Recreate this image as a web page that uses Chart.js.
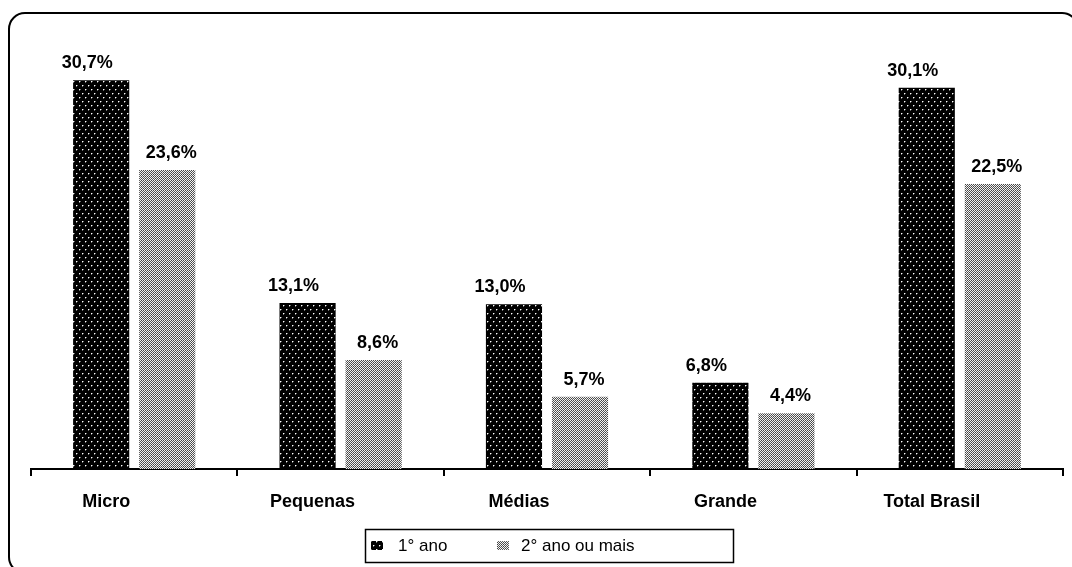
<!DOCTYPE html>
<html>
<head>
<meta charset="utf-8">
<script src="https://cdn.jsdelivr.net/npm/chart.js@4/dist/chart.umd.min.js"></script>
<style>
  html, body { margin: 0; padding: 0; background: #fff; }
  #wrap { position: relative; width: 1072px; height: 567px; }
  canvas { display: block; }
</style>
</head>
<body>
<div id="wrap"><canvas id="c" width="1072" height="567"></canvas></div>
<script>
// Categories and series values (percent)
const categories = ['Micro', 'Pequenas', 'Médias', 'Grande', 'Total Brasil'];
const seriesNames = ['1° ano', '2° ano ou mais'];
const firstYear = [30.7, 13.1, 13.0, 6.8, 30.1];
const laterYears = [23.6, 8.6, 5.7, 4.4, 22.5];

const FONT = '"Liberation Sans", Arial, Helvetica, sans-serif';

// Dotted black fill
function darkPattern() {
  const t = document.createElement('canvas');
  t.width = 6; t.height = 8;
  const g = t.getContext('2d');
  g.fillStyle = '#000'; g.fillRect(0, 0, 6, 8);
  g.fillStyle = '#6a6a6a';
  g.fillRect(1, 2, 1, 1); g.fillRect(2, 1, 1, 1);
  g.fillRect(4, 6, 1, 1); g.fillRect(5, 5, 1, 1);
  g.fillStyle = '#fff';
  g.fillRect(1, 1, 1, 1); g.fillRect(4, 5, 1, 1);
  return g.createPattern(t, 'repeat');
}
// Fine grey checker fill
function lightPattern() {
  const t = document.createElement('canvas');
  t.width = 4; t.height = 4;
  const g = t.getContext('2d');
  for (let y = 0; y < 4; y++) {
    for (let x = 0; x < 4; x++) {
      const on = (x + y) % 2 === 0;
      g.fillStyle = on ? '#f2f2f2' : '#5a5a5a';
      if (!on && x % 2 === 1 && y % 2 === 0) g.fillStyle = '#444';
      g.fillRect(x, y, 1, 1);
    }
  }
  return g.createPattern(t, 'repeat');
}

const fmt = v => v.toFixed(1).replace('.', ',') + '%';

// Value labels above each bar (first series set a little to the left)
const labelShift = [-14, 4];
const valueLabels = {
  id: 'valueLabels',
  afterDatasetsDraw(chart) {
    const ctx = chart.ctx;
    ctx.save();
    ctx.font = 'bold 18px ' + FONT;
    ctx.fillStyle = '#000';
    ctx.textAlign = 'center';
    ctx.textBaseline = 'alphabetic';
    chart.data.datasets.forEach((ds, i) => {
      chart.getDatasetMeta(i).data.forEach((bar, j) => {
        ctx.fillText(fmt(ds.data[j]), bar.x + labelShift[i], bar.y - 12);
      });
    });
    ctx.restore();
  }
};

// Boxed legend and rounded outer frame
const frameAndLegend = {
  id: 'frameAndLegend',
  afterDraw(chart) {
    const ctx = chart.ctx;
    ctx.save();
    // outer rounded frame
    ctx.strokeStyle = '#000';
    ctx.lineWidth = 2;
    const x0 = 9, y0 = 13, x1 = 1078, y1 = 573, r = 16;
    ctx.beginPath();
    ctx.moveTo(x0 + r, y0);
    ctx.lineTo(x1 - r, y0);
    ctx.arcTo(x1, y0, x1, y0 + r, r);
    ctx.lineTo(x1, y1 - r);
    ctx.arcTo(x1, y1, x1 - r, y1, r);
    ctx.lineTo(x0 + r, y1);
    ctx.arcTo(x0, y1, x0, y1 - r, r);
    ctx.lineTo(x0, y0 + r);
    ctx.arcTo(x0, y0, x0 + r, y0, r);
    ctx.stroke();

    // legend box
    ctx.lineWidth = 1.5;
    ctx.strokeRect(365.5, 529.5, 368, 33);
    ctx.font = '17px ' + FONT;
    ctx.textBaseline = 'middle';
    ctx.textAlign = 'left';
    const items = [{ sx: 371, tx: 398 }, { sx: 497, tx: 521 }];
    chart.data.datasets.forEach((ds, i) => {
      const it = items[i];
      ctx.fillStyle = ds.backgroundColor;
      ctx.fillRect(it.sx, 541, 12, 9);
      ctx.fillStyle = '#000';
      ctx.fillText(ds.label, it.tx, 546);
    });
    ctx.restore();
  }
};

new Chart(document.getElementById('c'), {
  type: 'bar',
  data: {
    labels: categories,
    datasets: [
      { label: seriesNames[0], data: firstYear, backgroundColor: darkPattern(), borderWidth: 0 },
      { label: seriesNames[1], data: laterYears, backgroundColor: lightPattern(), borderWidth: 0 }
    ]
  },
  options: {
    responsive: false,
    animation: false,
    devicePixelRatio: 1,
    categoryPercentage: 0.64,
    barPercentage: 0.85,
    layout: { padding: { left: 31, right: 9, top: 51, bottom: 0 } },
    plugins: {
      legend: { display: false },
      tooltip: { enabled: false },
      title: { display: false }
    },
    scales: {
      y: { display: false, min: 0, max: 33 },
      x: {
        offset: true,
        afterFit(scale) { scale.height = 98; },
        grid: {
          display: true,
          drawOnChartArea: false,
          drawTicks: true,
          tickLength: 7,
          color: '#000',
          lineWidth: 2,
          offset: true
        },
        border: { display: true, color: '#000', width: 2 },
        ticks: {
          color: '#000',
          padding: 15,
          labelOffset: -28,
          maxRotation: 0,
          autoSkip: false,
          font: { family: FONT, size: 18, weight: 'bold' }
        }
      }
    }
  },
  plugins: [valueLabels, frameAndLegend]
});
</script>
</body>
</html>
